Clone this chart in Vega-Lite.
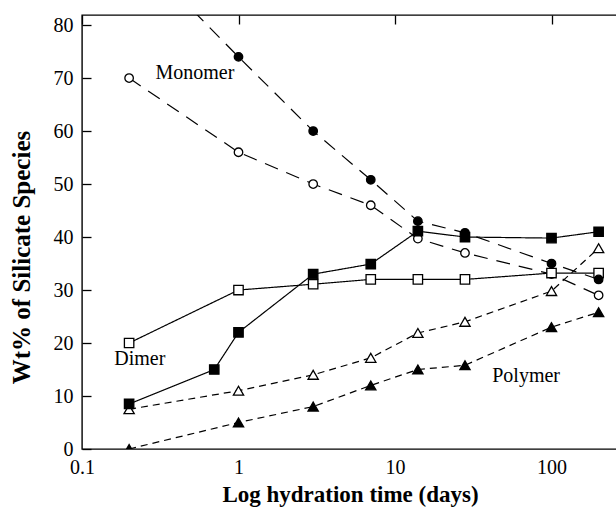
{
  "$schema": "https://vega.github.io/schema/vega-lite/v6.json",
  "width": 536,
  "height": 434,
  "autosize": "none",
  "padding": {"left": 82, "top": 15, "right": 0, "bottom": 59},
  "background": "white",
  "config": {
    "view": {"stroke": "black", "strokeWidth": 1.4},
    "font": "Liberation Serif",
    "axis": {
      "domain": false,
      "ticks": false,
      "grid": true,
      "gridColor": "black",
      "gridOpacity": 1,
      "gridWidth": 1.3,
      "labelColor": "black",
      "titleColor": "black",
      "labelFont": "Liberation Serif",
      "titleFont": "Liberation Serif",
      "labelFontSize": 20,
      "titleFontWeight": "bold",
      "labelOverlap": false,
      "labelFlush": false
    }
  },
  "datasets": {
    "pts": [
      {"x": 0.2, "y": 95, "series": "monoF", "dash": "long", "fill": "filled", "shape": "circle"},
      {"x": 1, "y": 74, "series": "monoF", "dash": "long", "fill": "filled", "shape": "circle"},
      {"x": 3, "y": 60, "series": "monoF", "dash": "long", "fill": "filled", "shape": "circle"},
      {"x": 7, "y": 50.8, "series": "monoF", "dash": "long", "fill": "filled", "shape": "circle"},
      {"x": 14, "y": 43, "series": "monoF", "dash": "long", "fill": "filled", "shape": "circle"},
      {"x": 28, "y": 40.8, "series": "monoF", "dash": "long", "fill": "filled", "shape": "circle"},
      {"x": 100, "y": 35, "series": "monoF", "dash": "long", "fill": "filled", "shape": "circle"},
      {"x": 200, "y": 32, "series": "monoF", "dash": "long", "fill": "filled", "shape": "circle"},

      {"x": 0.2, "y": 70, "series": "monoO", "dash": "long", "fill": "open", "shape": "circle"},
      {"x": 1, "y": 56, "series": "monoO", "dash": "long", "fill": "open", "shape": "circle"},
      {"x": 3, "y": 50, "series": "monoO", "dash": "long", "fill": "open", "shape": "circle"},
      {"x": 7, "y": 46, "series": "monoO", "dash": "long", "fill": "open", "shape": "circle"},
      {"x": 14, "y": 39.7, "series": "monoO", "dash": "long", "fill": "open", "shape": "circle"},
      {"x": 28, "y": 37, "series": "monoO", "dash": "long", "fill": "open", "shape": "circle"},
      {"x": 100, "y": 33, "series": "monoO", "dash": "long", "fill": "open", "shape": "circle"},
      {"x": 200, "y": 29, "series": "monoO", "dash": "long", "fill": "open", "shape": "circle"},

      {"x": 0.2, "y": 8.5, "series": "dimF", "dash": "solid", "fill": "filled", "shape": "square"},
      {"x": 0.7, "y": 15, "series": "dimF", "dash": "solid", "fill": "filled", "shape": "square"},
      {"x": 1, "y": 22, "series": "dimF", "dash": "solid", "fill": "filled", "shape": "square"},
      {"x": 3, "y": 33, "series": "dimF", "dash": "solid", "fill": "filled", "shape": "square"},
      {"x": 7, "y": 34.9, "series": "dimF", "dash": "solid", "fill": "filled", "shape": "square"},
      {"x": 14, "y": 41.1, "series": "dimF", "dash": "solid", "fill": "filled", "shape": "square"},
      {"x": 28, "y": 40, "series": "dimF", "dash": "solid", "fill": "filled", "shape": "square"},
      {"x": 100, "y": 39.8, "series": "dimF", "dash": "solid", "fill": "filled", "shape": "square"},
      {"x": 200, "y": 41, "series": "dimF", "dash": "solid", "fill": "filled", "shape": "square"},

      {"x": 0.2, "y": 20, "series": "dimO", "dash": "solid", "fill": "open", "shape": "square"},
      {"x": 1, "y": 30, "series": "dimO", "dash": "solid", "fill": "open", "shape": "square"},
      {"x": 3, "y": 31.1, "series": "dimO", "dash": "solid", "fill": "open", "shape": "square"},
      {"x": 7, "y": 32, "series": "dimO", "dash": "solid", "fill": "open", "shape": "square"},
      {"x": 14, "y": 32, "series": "dimO", "dash": "solid", "fill": "open", "shape": "square"},
      {"x": 28, "y": 32, "series": "dimO", "dash": "solid", "fill": "open", "shape": "square"},
      {"x": 100, "y": 33.2, "series": "dimO", "dash": "solid", "fill": "open", "shape": "square"},
      {"x": 200, "y": 33.2, "series": "dimO", "dash": "solid", "fill": "open", "shape": "square"},

      {"x": 0.2, "y": 7.5, "series": "polO", "dash": "short", "fill": "open", "shape": "triangle"},
      {"x": 1, "y": 11, "series": "polO", "dash": "short", "fill": "open", "shape": "triangle"},
      {"x": 3, "y": 14, "series": "polO", "dash": "short", "fill": "open", "shape": "triangle"},
      {"x": 7, "y": 17.2, "series": "polO", "dash": "short", "fill": "open", "shape": "triangle"},
      {"x": 14, "y": 21.9, "series": "polO", "dash": "short", "fill": "open", "shape": "triangle"},
      {"x": 28, "y": 24, "series": "polO", "dash": "short", "fill": "open", "shape": "triangle"},
      {"x": 100, "y": 29.8, "series": "polO", "dash": "short", "fill": "open", "shape": "triangle"},
      {"x": 200, "y": 37.9, "series": "polO", "dash": "short", "fill": "open", "shape": "triangle"},

      {"x": 0.2, "y": 0, "series": "polF", "dash": "short", "fill": "filled", "shape": "triangle"},
      {"x": 1, "y": 5, "series": "polF", "dash": "short", "fill": "filled", "shape": "triangle"},
      {"x": 3, "y": 8, "series": "polF", "dash": "short", "fill": "filled", "shape": "triangle"},
      {"x": 7, "y": 12, "series": "polF", "dash": "short", "fill": "filled", "shape": "triangle"},
      {"x": 14, "y": 15, "series": "polF", "dash": "short", "fill": "filled", "shape": "triangle"},
      {"x": 28, "y": 15.8, "series": "polF", "dash": "short", "fill": "filled", "shape": "triangle"},
      {"x": 100, "y": 23, "series": "polF", "dash": "short", "fill": "filled", "shape": "triangle"},
      {"x": 200, "y": 25.8, "series": "polF", "dash": "short", "fill": "filled", "shape": "triangle"}
    ],
    "labels": [
      {"x": 0.527, "y": 71, "label": "Monomer"},
      {"x": 0.234, "y": 17, "label": "Dimer"},
      {"x": 68.8, "y": 13.8, "label": "Polymer"}
    ]
  },
  "layer": [
    {
      "data": {"name": "pts"},
      "mark": {"type": "line", "clip": true, "stroke": "black", "strokeWidth": 1.2},
      "encoding": {
        "x": {
          "field": "x", "type": "quantitative",
          "scale": {"type": "log", "domain": [0.1, 266], "nice": false},
          "axis": {
            "orient": "bottom",
            "gridDash": [9, 2000],
            "labelPadding": 8,
            "title": "Log hydration time (days)",
            "titleFontSize": 23,
            "titlePadding": 6,
            "values": [0.1, 1, 10, 100],
            "format": "~g"
          }
        },
        "y": {
          "field": "y", "type": "quantitative",
          "scale": {"domain": [0, 81.9], "nice": false, "zero": false},
          "axis": {
            "orient": "left",
            "gridDash": [9, 2000],
            "labelPadding": 9,
            "title": "Wt% of Silicate Species",
            "titleFontSize": 25,
            "titlePadding": 19,
            "titleY": 242,
            "tickCount": 8
          }
        },
        "detail": {"field": "series"},
        "strokeDash": {
          "field": "dash", "type": "nominal",
          "scale": {"domain": ["long", "short", "solid"], "range": [[14, 9], [7, 5], [1, 0]]},
          "legend": null
        }
      }
    },
    {
      "data": {"name": "pts"},
      "transform": [{"filter": "datum.fill == 'open'"}],
      "mark": {"type": "point", "clip": true, "stroke": "black", "strokeWidth": 1.3, "opacity": 1, "fill": "white"},
      "encoding": {
        "x": {
          "field": "x", "type": "quantitative",
          "scale": {"type": "log", "domain": [0.1, 266], "nice": false},
          "axis": {
            "orient": "bottom", "gridDash": [5, 2000], "title": null, "labels": false,
            "values": [0.2,0.3,0.4,0.5,0.6,0.7,0.8,0.9,2,3,4,5,6,7,8,9,20,30,40,50,60,70,80,90,200]
          }
        },
        "y": {
          "field": "y", "type": "quantitative",
          "scale": {"domain": [0, 81.9], "nice": false, "zero": false},
          "axis": {
            "orient": "left", "gridDash": [5, 2000], "title": null, "labels": false,
            "values": [2,4,6,8,12,14,16,18,22,24,26,28,32,34,36,38,42,44,46,48,52,54,56,58,62,64,66,68,72,74,76,78]
          }
        },
        "shape": {"field": "shape", "type": "nominal", "scale": {"domain": ["circle", "square", "triangle"], "range": ["circle", "square", "triangle-up"]}, "legend": null},
        "size": {"field": "shape", "type": "nominal", "scale": {"domain": ["circle", "square", "triangle"], "range": [72, 105, 90]}, "legend": null}
      }
    },
    {
      "data": {"name": "pts"},
      "transform": [{"filter": "datum.fill == 'filled'"}],
      "mark": {"type": "point", "clip": true, "stroke": "black", "strokeWidth": 1.3, "opacity": 1, "fill": "black", "filled": true},
      "encoding": {
        "x": {
          "field": "x", "type": "quantitative",
          "scale": {"type": "log", "domain": [0.1, 266], "nice": false},
          "axis": {"orient": "top", "gridDash": [9, 2000], "title": null, "labels": false, "values": [0.1, 1, 10, 100]}
        },
        "y": {
          "field": "y", "type": "quantitative",
          "scale": {"domain": [0, 81.9], "nice": false, "zero": false},
          "axis": null
        },
        "shape": {"field": "shape", "type": "nominal", "scale": {"domain": ["circle", "square", "triangle"], "range": ["circle", "square", "triangle-up"]}, "legend": null},
        "size": {"field": "shape", "type": "nominal", "scale": {"domain": ["circle", "square", "triangle"], "range": [80, 120, 95]}, "legend": null}
      }
    },
    {
      "data": {"name": "labels"},
      "mark": {"type": "text", "font": "Liberation Serif", "fontSize": 20, "color": "black"},
      "encoding": {
        "x": {
          "field": "x", "type": "quantitative",
          "scale": {"type": "log", "domain": [0.1, 266], "nice": false},
          "axis": {
            "orient": "top", "gridDash": [5, 2000], "title": null, "labels": false,
            "values": [0.2,0.3,0.4,0.5,0.6,0.7,0.8,0.9,2,3,4,5,6,7,8,9,20,30,40,50,60,70,80,90,200]
          }
        },
        "y": {
          "field": "y", "type": "quantitative",
          "scale": {"domain": [0, 81.9], "nice": false, "zero": false},
          "axis": null
        },
        "text": {"field": "label"}
      }
    }
  ],
  "resolve": {"axis": {"x": "independent", "y": "independent"}}
}
